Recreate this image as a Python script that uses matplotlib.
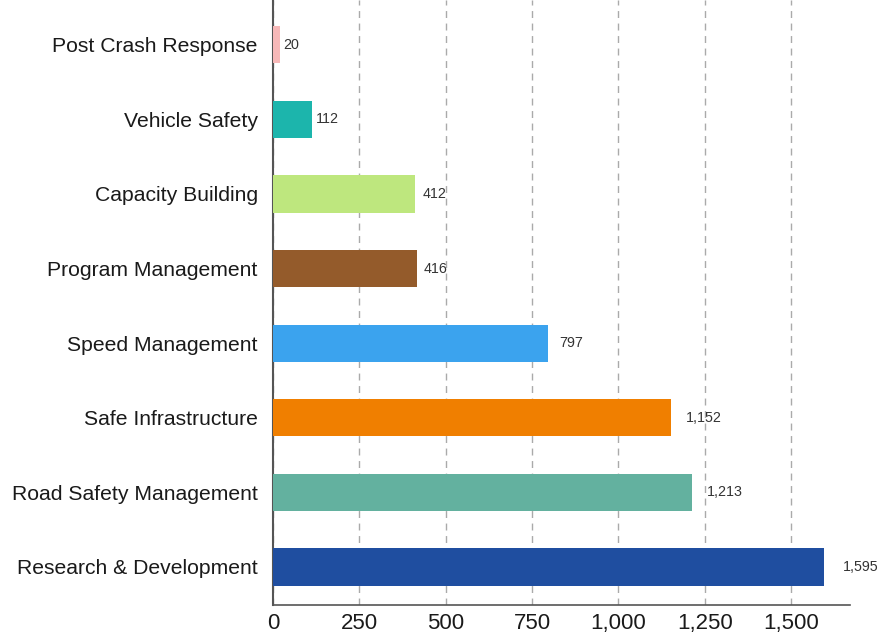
import matplotlib
matplotlib.use("Agg")
import matplotlib.pyplot as plt

plt.rcParams['font.family'] = ['Liberation Sans', 'DejaVu Sans']

# data, bottom to top
categories = ["Research & Development", "Road Safety Management", "Safe Infrastructure",
              "Speed Management", "Program Management", "Capacity Building",
              "Vehicle Safety", "Post Crash Response"]
values = [1595, 1213, 1152, 797, 416, 412, 112, 20]
colors = ["#1F4EA0", "#63B19F", "#F07F00", "#3BA3EE", "#945B2B", "#BEE77E",
          "#1CB5AC", "#F7B8B8"]

fig = plt.figure(figsize=(8.79, 6.37), dpi=100)
ax = fig.add_axes([0.3106, 0.0502, 0.6564, 0.9498])

ypos = list(range(len(categories)))
ax.barh(ypos, values, height=0.5, color=colors, zorder=3)

for y, v in zip(ypos, values):
    ax.annotate(f"{v:,}", xy=(v * 1.03, y), xytext=(2, 0), textcoords="offset points",
                va="center", ha="left", fontsize=10.3, color="#333333")

ax.set_yticks(ypos)
ax.set_yticklabels(categories, fontsize=15.2, color="#1A1A1A")
ax.set_xticks([0, 250, 500, 750, 1000, 1250, 1500])
ax.set_xticklabels(["0", "250", "500", "750", "1,000", "1,250", "1,500"], fontsize=16, color="#1A1A1A")
ax.set_xlim(0, 1671)
ax.set_ylim(-0.51, 7.6)

ax.grid(axis="x", linestyle=(0, (5, 4)), color="#AAAAAA", linewidth=1, zorder=0)
ax.tick_params(length=0)
ax.tick_params(axis="y", pad=11)
ax.tick_params(axis="x", pad=6)
for s in ["top", "right"]:
    ax.spines[s].set_visible(False)
ax.spines["left"].set_color("#555555")
ax.spines["left"].set_linewidth(1.5)
ax.spines["bottom"].set_color("#555555")
ax.spines["bottom"].set_linewidth(1.2)

fig.savefig("out.png", dpi=100)
